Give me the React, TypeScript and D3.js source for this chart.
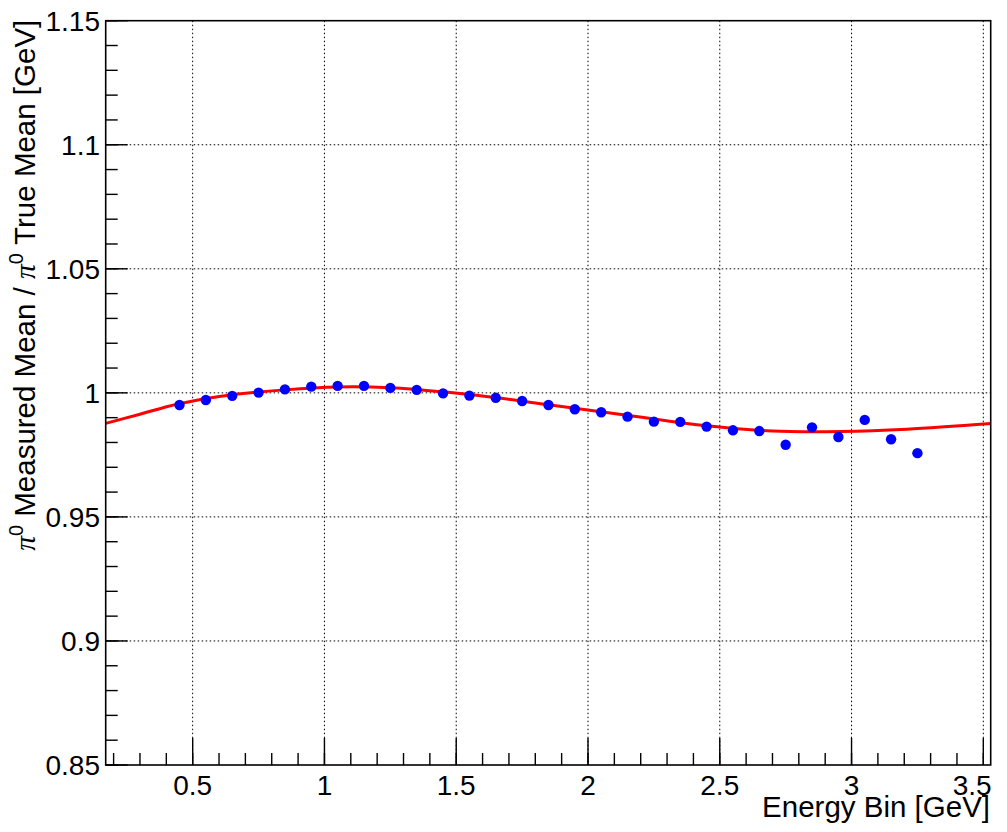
import React from "react";
import * as d3 from "d3";

const binCenters = [0.45, 0.55, 0.65, 0.75, 0.85, 0.95, 1.05, 1.15, 1.25, 1.35, 1.45, 1.55, 1.65, 1.75, 1.85, 1.95, 2.05, 2.15, 2.25, 2.35, 2.45, 2.55, 2.65, 2.75, 2.85, 2.95, 3.05, 3.15, 3.25];
const ratios = [0.9951, 0.9971, 0.9988, 1.0001, 1.0014, 1.0025, 1.0028, 1.0028, 1.002, 1.0012, 0.9998, 0.9989, 0.998, 0.9967, 0.9951, 0.9934, 0.9922, 0.9904, 0.9884, 0.9883, 0.9864, 0.9849, 0.9846, 0.9791, 0.9861, 0.9822, 0.9891, 0.9813, 0.9757];

const fitX = [0.17, 0.3, 0.44, 0.6, 0.85, 1.05, 1.25, 1.47, 1.67, 1.85, 2.14, 2.45, 2.7, 2.96, 3.21, 3.528];
const fitY = [0.9877, 0.9914, 0.9954, 0.9985, 1.0012, 1.0024, 1.0021, 1.0002, 0.9978, 0.9952, 0.9911, 0.9867, 0.9846, 0.9844, 0.9853, 0.9876];

const xMajor = [0.5, 1, 1.5, 2, 2.5, 3, 3.5];
const xMajorLabels = ["0.5", "1", "1.5", "2", "2.5", "3", "3.5"];
const yMajor = [0.85, 0.9, 0.95, 1.0, 1.05, 1.1, 1.15];
const yMajorLabels = ["0.85", "0.9", "0.95", "1", "1.05", "1.1", "1.15"];
const xDomain = [0.17, 3.528];
const yDomain = [0.85, 1.15];

const W = 1007, H = 832;
const L = 105.7, R = 990.7, T = 20.7, B = 765;
const FONT = "'Liberation Sans', Arial, Helvetica, sans-serif";
const FS = 28;
const TFS = 29.5;

export default function App() {
  const x = d3.scaleLinear().domain(xDomain).range([L, R]);
  const y = d3.scaleLinear().domain(yDomain).range([B, T]);

  const xMinor = d3.range(2, 36).map((i) => i / 10).filter((v) => v >= xDomain[0] && v <= xDomain[1]);
  const yMinor = d3.range(85, 116).map((i) => i / 100);

  const fitPts: [number, number][] = fitX.map((v, i) => [v, fitY[i]]);
  const line = d3
    .line<[number, number]>()
    .x((d) => x(d[0]))
    .y((d) => y(d[1]))
    .curve(d3.curveCatmullRom.alpha(0.5));

  return (
    <svg width={W} height={H} style={{ position: "absolute", left: 0, top: 0, background: "#fff" }} fontFamily={FONT}>
      <rect x={0} y={0} width={W} height={H} fill="#fff" />
      {/* grid */}
      {xMajor.map((v) => (
        <line key={"gx" + v} x1={x(v)} x2={x(v)} y1={T} y2={B} stroke="#000" strokeWidth={1} strokeDasharray="1.5,2.5" />
      ))}
      {yMajor.slice(1, -1).map((v) => (
        <line key={"gy" + v} x1={L} x2={R} y1={y(v)} y2={y(v)} stroke="#000" strokeWidth={1} strokeDasharray="1.5,2.5" />
      ))}
      {/* fit curve */}
      <path d={line(fitPts) || ""} fill="none" stroke="#f00" strokeWidth={3} />
      {/* points */}
      {binCenters.map((v, i) => (
        <circle key={"p" + i} cx={x(v)} cy={y(ratios[i])} r={5.2} fill="#0000ff" />
      ))}
      {/* frame */}
      <rect x={L} y={T} width={R - L} height={B - T} fill="none" stroke="#000" strokeWidth={1.6} />
      {/* x ticks */}
      {xMinor.map((v) => (
        <line key={"xm" + v} x1={x(v)} x2={x(v)} y1={B} y2={B - 12} stroke="#000" strokeWidth={1.4} />
      ))}
      {xMajor.map((v) => (
        <line key={"xM" + v} x1={x(v)} x2={x(v)} y1={B} y2={B - 27} stroke="#000" strokeWidth={1.4} />
      ))}
      {/* y ticks */}
      {yMinor.map((v) => (
        <line key={"ym" + v} x1={L} x2={L + 12} y1={y(v)} y2={y(v)} stroke="#000" strokeWidth={1.4} />
      ))}
      {yMajor.map((v) => (
        <line key={"yM" + v} x1={L} x2={L + 22} y1={y(v)} y2={y(v)} stroke="#000" strokeWidth={1.4} />
      ))}
      {/* x labels */}
      {xMajor.map((v, i) => {
        const last = i === xMajor.length - 1;
        return (
          <text key={"xl" + v} x={last ? R + 1 : x(v)} y={795} fontSize={FS} textAnchor={last ? "end" : "middle"} fill="#000">
            {xMajorLabels[i]}
          </text>
        );
      })}
      {/* y labels */}
      {yMajor.map((v, i) => (
        <text key={"yl" + v} x={100} y={y(v) + 10} fontSize={FS} textAnchor="end" fill="#000">
          {yMajorLabels[i]}
        </text>
      ))}
      {/* x title */}
      <text x={990} y={816.5} fontSize={TFS} textAnchor="end" fill="#000">
        Energy Bin [GeV]
      </text>
      {/* y title */}
      <text transform={`translate(35,${T - 1}) rotate(-90)`} fontSize={TFS} textAnchor="end" fill="#000">
        <tspan fontFamily="'Liberation Serif', serif" fontStyle="italic">π</tspan>
        <tspan fontSize={20} dy={-12}>0</tspan>
        <tspan dy={12}> Measured Mean / </tspan>
        <tspan fontFamily="'Liberation Serif', serif" fontStyle="italic">π</tspan>
        <tspan fontSize={20} dy={-12}>0</tspan>
        <tspan dy={12}> True Mean [GeV]</tspan>
      </text>
    </svg>
  );
}
